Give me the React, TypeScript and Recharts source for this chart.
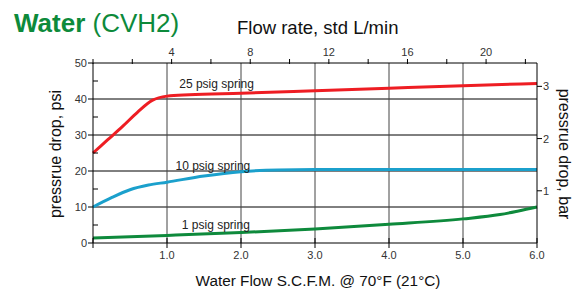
import React from 'react'
import {
  LineChart,
  Line,
  XAxis,
  YAxis,
  ReferenceLine,
  ReferenceDot,
} from 'recharts'

// flow in SCFM (bottom axis) and pressure drop in psi (left axis)
const springs25 = [
  { x: 0, y: 25 },
  { x: 0.2, y: 28.7 },
  { x: 0.4, y: 32.4 },
  { x: 0.6, y: 36.3 },
  { x: 0.8, y: 39.6 },
  { x: 1.0, y: 40.8 },
  { x: 1.3, y: 41.2 },
  { x: 2, y: 41.6 },
  { x: 3, y: 42.3 },
  { x: 4, y: 43 },
  { x: 5, y: 43.7 },
  { x: 6, y: 44.3 },
]

const springs10 = [
  { x: 0, y: 10 },
  { x: 0.25, y: 12.6 },
  { x: 0.5, y: 14.8 },
  { x: 0.75, y: 16.1 },
  { x: 1.0, y: 16.9 },
  { x: 1.5, y: 18.6 },
  { x: 2, y: 19.8 },
  { x: 2.5, y: 20.3 },
  { x: 3, y: 20.4 },
  { x: 4, y: 20.4 },
  { x: 5, y: 20.4 },
  { x: 6, y: 20.4 },
]

const springs1 = [
  { x: 0, y: 1.4 },
  { x: 1, y: 2.1 },
  { x: 2, y: 2.9 },
  { x: 3, y: 3.9 },
  { x: 4, y: 5.2 },
  { x: 5, y: 6.7 },
  { x: 5.5, y: 7.9 },
  { x: 5.75, y: 8.9 },
  { x: 6, y: 10 },
]

const scfmTicks = [0, 1, 2, 3, 4, 5, 6]
const psiTicks = [0, 5, 10, 15, 20, 25, 30, 35, 40, 45, 50]
const psiGrid = [10, 20, 30, 40]
const scfmGrid = [1, 2, 3, 4, 5]
const lpmTicks = [0, 2, 4, 6, 8, 10, 12, 14, 16, 18, 20, 22]
const lpmLabels = [4, 8, 12, 16, 20]
const barTicks = [1, 2, 3]

const LPM_MAX = 6 / 0.2656
const BAR_MAX = 50 / 14.5038

// empty series so the L/min axis gets a domain
const lpmRange = [{ lpm: 0 }, { lpm: LPM_MAX }]

const curveLabels = [
  { text: '25 psig spring', x: 1.67, y: 43.1, angle: -2.6 },
  { text: '10 psig spring', x: 1.62, y: 20.3, angle: -4 },
  { text: '1 psig spring', x: 1.66, y: 4.0, angle: -2 },
]

const tickFont = { fontSize: 11, fill: '#333' }

const BottomTick = ({ x, y, payload }: any) => (
  <g>
    <line x1={x} x2={x} y1={y - 5} y2={y + 5} stroke="#000" />
    {payload.value > 0 && (
      <text x={x} y={y + 16} textAnchor="middle" {...tickFont}>
        {payload.value.toFixed(1)}
      </text>
    )}
  </g>
)

const TopTick = ({ x, y, payload }: any) => (
  <g>
    <line x1={x} x2={x} y1={y - 4} y2={y + 1} stroke="#000" />
    {lpmLabels.includes(payload.value) && (
      <text x={x} y={y - 7} textAnchor="middle" {...tickFont}>
        {payload.value}
      </text>
    )}
  </g>
)

const LeftTick = ({ x, y, payload }: any) => {
  const major = payload.value % 10 === 0
  return (
    <g>
      {major ? (
        <line x1={x - 5} x2={x} y1={y} y2={y} stroke="#000" />
      ) : (
        <line x1={x} x2={x + 5} y1={y} y2={y} stroke="#000" />
      )}
      {major && (
        <text x={x - 6} y={y + 4} textAnchor="end" {...tickFont}>
          {payload.value}
        </text>
      )}
    </g>
  )
}

const RightTick = ({ x, y, payload }: any) => (
  <g>
    <line x1={x} x2={x + 5} y1={y} y2={y} stroke="#000" />
    <text x={x + 6} y={y + 4} textAnchor="start" {...tickFont}>
      {payload.value}
    </text>
  </g>
)

const CurveLabel = ({ viewBox, text, angle }: any) => {
  const cx = viewBox.x + (viewBox.width || 0) / 2
  const cy = viewBox.y + (viewBox.height || 0) / 2
  return (
    <text
      x={cx}
      y={cy}
      textAnchor="middle"
      fontSize={12}
      fill="#222"
      transform={`rotate(${angle} ${cx} ${cy})`}
    >
      {text}
    </text>
  )
}

export default function App() {
  const font = '"Liberation Sans", Arial, Helvetica, sans-serif'
  return (
    <div
      style={{
        position: 'absolute',
        left: 0,
        top: 0,
        width: 573,
        height: 291,
        fontFamily: font,
        background: '#fff',
      }}
    >
      <div
        style={{
          position: 'absolute',
          left: 14,
          top: 8,
          fontSize: 26,
          color: '#0d8a3b',
          whiteSpace: 'nowrap',
        }}
      >
        <b>Water</b> (CVH2)
      </div>
      <div
        style={{
          position: 'absolute',
          left: 237,
          top: 17,
          fontSize: 18.5,
          color: '#111',
          whiteSpace: 'nowrap',
        }}
      >
        Flow rate, std L/min
      </div>
      <div
        style={{
          position: 'absolute',
          left: 56,
          top: 154,
          fontSize: 16,
          color: '#111',
          whiteSpace: 'nowrap',
          transform: 'translate(-50%, -50%) rotate(-90deg)',
        }}
      >
        pressrue drop, psi
      </div>
      <div
        style={{
          position: 'absolute',
          left: 564,
          top: 154,
          fontSize: 16,
          color: '#111',
          whiteSpace: 'nowrap',
          transform: 'translate(-50%, -50%) rotate(90deg)',
        }}
      >
        pressrue drop, bar
      </div>
      <div
        style={{
          position: 'absolute',
          left: 318,
          top: 272,
          fontSize: 15.3,
          color: '#111',
          whiteSpace: 'nowrap',
          transform: 'translateX(-50%)',
        }}
      >
        Water Flow S.C.F.M. @ 70°F (21°C)
      </div>

      <div style={{ position: 'absolute', left: 0, top: 0 }}>
        <LineChart
          width={573}
          height={291}
          margin={{ top: 43, right: 6, bottom: 28, left: 63 }}
        >
          <XAxis
            dataKey="x"
            type="number"
            domain={[0, 6]}
            ticks={scfmTicks}
            height={20}
            tickSize={0}
            tickMargin={0}
            tick={<BottomTick />}
            axisLine={{ stroke: '#000' }}
            tickLine={false}
            interval={0}
          />
          <XAxis
            xAxisId="top"
            dataKey="lpm"
            orientation="top"
            type="number"
            domain={[0, LPM_MAX]}
            ticks={lpmTicks}
            height={20}
            tickSize={0}
            tickMargin={0}
            tick={<TopTick />}
            axisLine={{ stroke: '#000' }}
            tickLine={false}
            interval={0}
            allowDataOverflow
          />
          <YAxis
            type="number"
            domain={[0, 50]}
            ticks={psiTicks}
            width={30}
            tickSize={0}
            tickMargin={0}
            tick={<LeftTick />}
            axisLine={{ stroke: '#000' }}
            tickLine={false}
            interval={0}
          />
          <YAxis
            yAxisId="right"
            orientation="right"
            type="number"
            domain={[0, BAR_MAX]}
            ticks={barTicks}
            width={30}
            tickSize={0}
            tickMargin={0}
            tick={<RightTick />}
            axisLine={{ stroke: '#000' }}
            tickLine={false}
            interval={0}
            allowDataOverflow
          />
          {psiGrid.map((v) => (
            <ReferenceLine key={'h' + v} y={v} stroke="#000" strokeWidth={1} />
          ))}
          {scfmGrid.map((v) => (
            <ReferenceLine key={'v' + v} x={v} stroke="#444" strokeWidth={1} />
          ))}
          <Line
            xAxisId="top"
            data={lpmRange}
            dataKey="none"
            stroke="none"
            dot={false}
            legendType="none"
            isAnimationActive={false}
          />
          <Line
            data={springs1}
            dataKey="y"
            type="monotone"
            stroke="#0e8a3c"
            strokeWidth={3}
            dot={false}
            isAnimationActive={false}
          />
          <Line
            data={springs10}
            dataKey="y"
            type="monotone"
            stroke="#1ba0cc"
            strokeWidth={3}
            dot={false}
            isAnimationActive={false}
          />
          <Line
            data={springs25}
            dataKey="y"
            type="monotone"
            stroke="#ee1d23"
            strokeWidth={3}
            dot={false}
            isAnimationActive={false}
          />
          {curveLabels.map((c) => (
            <ReferenceDot
              key={c.text}
              x={c.x}
              y={c.y}
              r={0}
              fill="none"
              stroke="none"
              label={<CurveLabel text={c.text} angle={c.angle} />}
            />
          ))}
        </LineChart>
      </div>
    </div>
  )
}
